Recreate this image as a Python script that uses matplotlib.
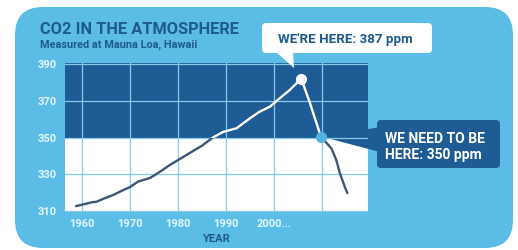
import matplotlib
matplotlib.use("Agg")
import matplotlib.pyplot as plt
from matplotlib.patches import FancyBboxPatch, Polygon, Rectangle
import numpy as np

# ---- data ----
years = [1958.8, 1962.3, 1963.0, 1964.8, 1966.5, 1968.3, 1970.0, 1971.7, 1974.2,
         1976.3, 1978.3, 1980.4, 1982.5, 1985.0, 1987.3, 1989.4, 1992.2, 1995.0,
         1997.0, 1999.2, 2001.2, 2003.3, 2005.7, 2007.5, 2009.8, 2012.0, 2013.0,
         2013.75, 2014.8, 2015.3]
ppm = [312.7, 314.9, 315.0, 317.0, 318.7, 321.0, 323.0, 326.0, 328.0,
       331.4, 335.0, 338.3, 341.6, 345.5, 350.0, 353.0, 355.0, 360.4,
       364.0, 366.8, 371.3, 375.8, 382.0, 368.8, 350.4, 344.0, 337.7,
       330.5, 323.0, 319.8]
now_point = (2005.7, 382.0)
target_point = (2009.8, 350.4)
target_ppm = 350
xticks = [1960, 1970, 1980, 1990, 2000, 2010]
xtick_labels = ["1960", "1970", "1980", "1990", "2000...", ""]
yticks = [310, 330, 350, 370, 390]

title = "CO2 IN THE ATMOSPHERE"
subtitle = "Measured at Mauna Loa, Hawaii"
callout_now = "WE'RE HERE: 387 ppm"
callout_target = "WE NEED TO BE\nHERE: 350 ppm"

# ---- style ----
W, H = 518, 250
BG = "#5bbde5"
DARK = "#1f5b95"
TITLE = "#1f5a8c"
GRID = "#86c9ea"
LINE_DARK = "#3d5577"
FONT = "Roboto"

fig = plt.figure(figsize=(W / 100, H / 100), dpi=100)
fig.patch.set_facecolor("white")

def px(x, y):
    return (x / 100, (H - y) / 100)

# light blue panel
panel = FancyBboxPatch(px(15, 248), (513 - 15) / 100, (248 - 7) / 100,
                       boxstyle="round,pad=0,rounding_size=0.28",
                       transform=fig.dpi_scale_trans, facecolor=BG,
                       edgecolor="none", zorder=-5)
fig.patches.append(panel)

ax = fig.add_axes([65 / W, 1 - 212 / H, (368 - 65) / W, (212 - 63) / H])
ax.set_zorder(1)
ax.set_xlim(1956.5, 2019.6)
ax.set_ylim(309.5, 390.5)
ax.set_facecolor("white")
for s in ax.spines.values():
    s.set_visible(False)

# dark upper band above target
ax.axhspan(target_ppm, 390.5, color=DARK, zorder=0.5, lw=0)
ax.set_xticks(xticks)
ax.set_xticklabels(xtick_labels)
ax.set_yticks(yticks)
ax.grid(True, color=GRID, lw=0.9, zorder=1)
ax.set_axisbelow(False)
ax.tick_params(length=0, colors="#e4f4fb", labelsize=8)
ax.tick_params(axis="y", pad=6)
ax.tick_params(axis="x", pad=5)
for lab in ax.get_xticklabels() + ax.get_yticklabels():
    lab.set_fontfamily(FONT)
    lab.set_fontweight("bold")
ax.set_xlabel("YEAR", color=TITLE, fontsize=8, fontweight="bold",
              fontfamily=FONT, labelpad=4)

# line: dark in white region, white in dark region
ax.plot(years, ppm, color=LINE_DARK, lw=1.7, zorder=3, solid_capstyle="round")
wl, = ax.plot(years, ppm, color="white", lw=1.7, zorder=4, solid_capstyle="round")
clip = Rectangle((1956.5, target_ppm), 70, 50, transform=ax.transData)
wl.set_clip_path(clip)

ax.plot(*now_point, "o", ms=7, color="white", zorder=6, clip_on=False)

# callout triangle toward target point
tri2 = Polygon([px(323, 137), px(380, 127), px(380, 152)], closed=True,
               transform=fig.dpi_scale_trans, facecolor=DARK, edgecolor="none",
               zorder=2, clip_on=False)
ax.add_artist(tri2)
ax.plot(*target_point, "o", ms=7, color="#4fb3e3", zorder=6, clip_on=False)

# titles
fig.text(40 / W, 1 - 30 / H, title, color=TITLE, fontsize=11.8, fontweight="bold",
         fontfamily=FONT, va="center", ha="left")
fig.text(40 / W, 1 - 45 / H, subtitle, color=TITLE, fontsize=7.8, fontweight="bold",
         fontfamily=FONT, va="center", ha="left")

# callout "we're here"
box1 = FancyBboxPatch(px(262, 53), (432 - 262) / 100, (53 - 23) / 100,
                      boxstyle="round,pad=0,rounding_size=0.04",
                      transform=fig.dpi_scale_trans, facecolor="white",
                      edgecolor="none", zorder=5)
fig.patches.append(box1)
tri1 = Polygon([px(276, 52), px(293, 52), px(294, 68)], closed=True,
               transform=fig.dpi_scale_trans, facecolor="white", edgecolor="none",
               zorder=5, clip_on=False)
ax.add_artist(tri1)
fig.text(345 / W, 1 - 39 / H, callout_now, color=TITLE, fontsize=9.6, fontweight="bold",
         fontfamily=FONT, va="center", ha="center", zorder=6)

# callout "we need to be here"
box2 = FancyBboxPatch(px(377, 168), (500 - 377) / 100, (168 - 120) / 100,
                      boxstyle="round,pad=0,rounding_size=0.04",
                      transform=fig.dpi_scale_trans, facecolor=DARK,
                      edgecolor="none", zorder=5)
fig.patches.append(box2)
fig.text(385 / W, 1 - 147 / H, callout_target, color="white", fontsize=10,
         fontweight="bold", fontfamily=FONT, va="center", ha="left",
         linespacing=1.2, zorder=6)

fig.savefig("out.png", dpi=100, facecolor=fig.get_facecolor())
